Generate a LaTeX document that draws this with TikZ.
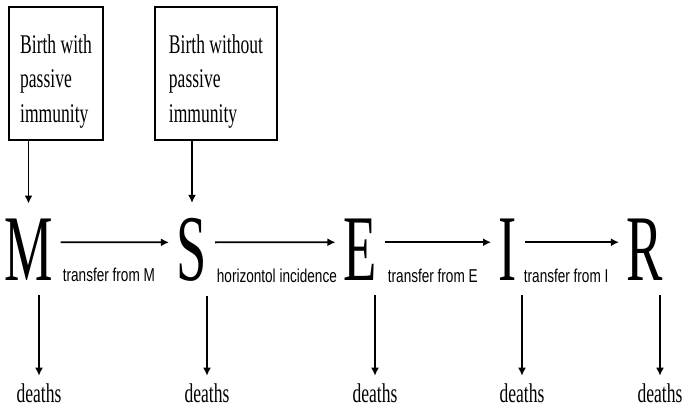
\documentclass[tikz,border=0pt]{standalone}
\usepackage{fontspec}
\setmainfont{Liberation Serif}
\newfontfamily\boxfont[FakeStretch=0.65]{Liberation Serif}
\newfontfamily\stagefont[FakeStretch=0.58]{Liberation Serif}
\newfontfamily\ratefont[FakeStretch=0.73]{Liberation Sans}
\usetikzlibrary{arrows.meta}

\begin{document}
\begin{tikzpicture}
  [
  x=0.5pt, y=-0.5pt, line width=0.9pt, draw=black,
  >={Latex[length=4pt,width=4pt]},
  birthbox/.style={rectangle, draw=black, line width=1.2pt, align=left, minimum height=66.5pt, font=\boxfont\fontsize{13.5}{17.25}\selectfont},
  stage/.style={inner xsep=3.5pt, inner ysep=7pt, anchor=base, font=\stagefont\fontsize{47}{47}\selectfont},
  rate/.style={anchor=base west, inner sep=0pt, font=\ratefont\fontsize{9.3}{11}\selectfont},
  sink/.style={anchor=base, font=\boxfont\fontsize{13.5}{16}\selectfont}
  ]

\useasboundingbox (0,0) rectangle (685,409);

\node[birthbox, minimum width=47pt] (bm) at (56,73.5) {\rule{0pt}{17pt}Birth with\\passive\\immunity};
\node[birthbox, minimum width=61pt] (bs) at (216,73.5) {\rule{0pt}{17pt}Birth without\\passive\\immunity};

\foreach \n/\x in {M/28.5, S/192, E/360, I/508, R/645} {
  \node[stage] (\n) at (\x,280) {\n};
}

\foreach \n/\x in {M/39, S/207, E/375, I/522, R/660} {
  \node[sink] (d\n) at (\x,402) {deaths};
}

\node[rate] (tM) at (62,281) {transfer from M};
\node[rate] (hS) at (216,282) {horizontol incidence};
\node[rate] (tE) at (387,282) {transfer from E};
\node[rate] (tI) at (523,282) {transfer from I};

\draw[->] (bm.south -| M.north) -- (M.north);
\draw[->] (bs.south -| S.north) -- (S.north);

\draw[->] ([yshift=3.5pt]M.east) -- ([yshift=3.5pt]S.west);
\draw[->] ([yshift=3.5pt]S.east) -- ([yshift=3.5pt]E.west);
\draw[->] ([yshift=3.5pt]E.east) -- ([yshift=3.5pt]I.west);
\draw[->] ([yshift=3.5pt]I.east) -- ([yshift=3.5pt]R.west);

\foreach \n in {M,S,E,I,R} {
  \draw[->] (\n.south -| d\n) -- (d\n);
}
\end{tikzpicture}
\end{document}
